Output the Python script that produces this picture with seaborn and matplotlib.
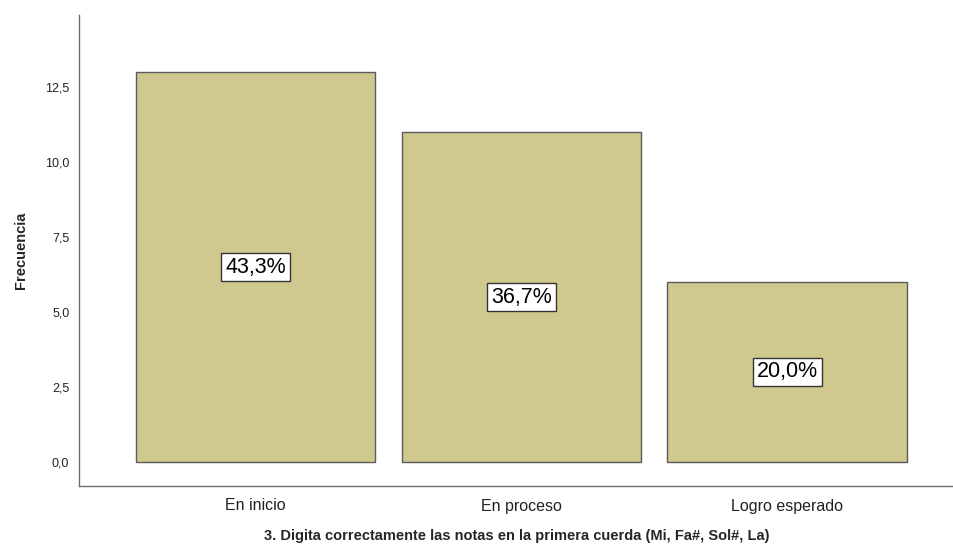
import pandas as pd
import matplotlib.pyplot as plt
import seaborn as sns

# Data
categories = ['En inicio', 'En proceso', 'Logro esperado']
frequencies = [13, 11, 6]
percent_labels = ['43,3%', '36,7%', '20,0%']
y_ticks = [0, 2.5, 5, 7.5, 10, 12.5]
y_tick_labels = ['0,0', '2,5', '5,0', '7,5', '10,0', '12,5']

df = pd.DataFrame({'Categoria': categories, 'Frecuencia': frequencies})

sns.set_style("white")
plt.rcParams['font.family'] = ['Liberation Sans', 'DejaVu Sans']

fig = plt.figure(figsize=(9.54, 5.51), dpi=100)
ax = fig.add_axes([79 / 954, 65 / 551, 1 - 79 / 954, 471 / 551])

sns.barplot(data=df, x='Categoria', y='Frecuencia', color='#CFC88F',
            width=0.9, edgecolor='#5a5a5a', linewidth=1.0, saturation=1, ax=ax)

# Percent labels in white boxes at mid-height of each bar
for i, (f, lab) in enumerate(zip(frequencies, percent_labels)):
    ax.text(i, f / 2, lab, ha='center', va='center', fontsize=15.5, color='black',
            bbox=dict(boxstyle='square,pad=0.18', facecolor='white',
                      edgecolor='#333333', linewidth=1.0))

ax.set_xlim(-0.664, 2.628)
ax.set_ylim(-0.8, 14.9)
ax.set_yticks(y_ticks)
ax.set_yticklabels(y_tick_labels, fontsize=9)
ax.tick_params(axis='y', length=0, pad=7, colors='#222222')
ax.tick_params(axis='x', length=0, pad=9, labelsize=11.5, colors='#222222')

ax.set_xlabel('3. Digita correctamente las notas en la primera cuerda (Mi, Fa#, Sol#, La)',
              fontsize=10.5, fontweight='bold', labelpad=11)
ax.set_ylabel('Frecuencia', fontsize=10.5, fontweight='bold', labelpad=12)

for side in ['top', 'right']:
    ax.spines[side].set_visible(False)
for side in ['left', 'bottom']:
    ax.spines[side].set_color('#6e6e6e')
    ax.spines[side].set_linewidth(1.0)

plt.savefig('out.png', dpi=100)
